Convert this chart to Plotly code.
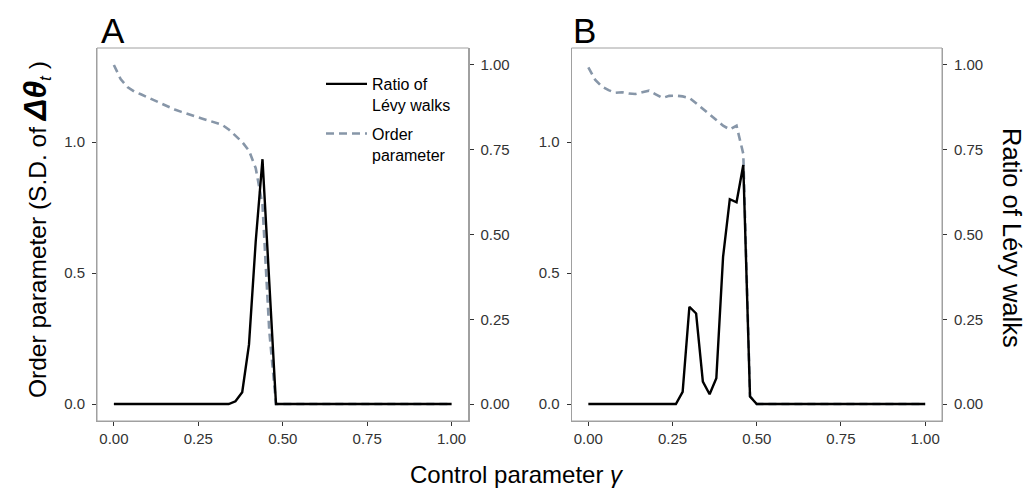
import plotly.graph_objects as go

# ---------------- data ----------------
gamma = [0.00, 0.02, 0.04, 0.06, 0.08, 0.10, 0.12, 0.14, 0.16, 0.18,
         0.20, 0.22, 0.24, 0.26, 0.28, 0.30, 0.32, 0.34, 0.36, 0.38,
         0.40, 0.42, 0.44, 0.46, 0.48, 0.50, 0.52, 0.54, 0.56, 0.58,
         0.60, 0.62, 0.64, 0.66, 0.68, 0.70, 0.72, 0.74, 0.76, 0.78,
         0.80, 0.82, 0.84, 0.86, 0.88, 0.90, 0.92, 0.94, 0.96, 0.98, 1.00]

# Panel A
order_A = [1.294, 1.240, 1.210, 1.193, 1.182, 1.170, 1.157, 1.145, 1.135, 1.124,
           1.115, 1.105, 1.098, 1.090, 1.083, 1.075, 1.066, 1.048, 1.025, 1.000,
           0.967, 0.900, 0.760, 0.280, 0.000, 0.000, 0.000, 0.000, 0.000, 0.000,
           0, 0, 0, 0, 0, 0, 0, 0, 0, 0,
           0, 0, 0, 0, 0, 0, 0, 0, 0, 0, 0]
levy_A = [0, 0, 0, 0, 0, 0, 0, 0, 0, 0,
          0, 0, 0, 0, 0, 0, 0, 0.000, 0.008, 0.035,
          0.175, 0.480, 0.722, 0.360, 0.000, 0, 0, 0, 0, 0,
          0, 0, 0, 0, 0, 0, 0, 0, 0, 0,
          0, 0, 0, 0, 0, 0, 0, 0, 0, 0, 0]

# Panel B
order_B = [1.285, 1.238, 1.212, 1.198, 1.188, 1.190, 1.185, 1.183, 1.190, 1.196,
           1.182, 1.168, 1.176, 1.177, 1.174, 1.168, 1.148, 1.128, 1.105, 1.084,
           1.062, 1.048, 1.062, 0.955, 0.030, 0.000, 0, 0, 0, 0,
           0, 0, 0, 0, 0, 0, 0, 0, 0, 0,
           0, 0, 0, 0, 0, 0, 0, 0, 0, 0, 0]
levy_B = [0, 0, 0, 0, 0, 0, 0, 0, 0, 0,
          0, 0, 0, 0.000, 0.036, 0.287, 0.267, 0.066, 0.029, 0.076,
          0.434, 0.604, 0.595, 0.705, 0.022, 0.000, 0, 0, 0, 0,
          0, 0, 0, 0, 0, 0, 0, 0, 0, 0,
          0, 0, 0, 0, 0, 0, 0, 0, 0, 0, 0]

x_ticks = [0, 0.25, 0.5, 0.75, 1.0]
x_ticktext = ["0.00", "0.25", "0.50", "0.75", "1.00"]
left_ticks = [0.0, 0.5, 1.0]
left_ticktext = ["0.0", "0.5", "1.0"]
right_ticks = [0, 0.25, 0.5, 0.75, 1.0]
right_ticktext = ["0.00", "0.25", "0.50", "0.75", "1.00"]

SCALE = 1.294  # secondary-axis factor: right 1.00 == left 1.294

# ---------------- styling ----------------
FONT = "Liberation Sans, Arial, Helvetica, sans-serif"
BLACK = "#000000"
GREY = "#8796a8"
BOX = "#a0a0a0"
TICK = "#333333"

fig = go.Figure()

# panel A
fig.add_trace(go.Scatter(x=gamma, y=levy_A, mode="lines", name="Ratio of<br>Lévy walks",
                         line=dict(color=BLACK, width=2.4), xaxis="x", yaxis="y2",
                         legendgroup="levy", showlegend=True))
fig.add_trace(go.Scatter(x=gamma, y=order_A, mode="lines", name="Order<br>parameter",
                         line=dict(color=GREY, width=2.6, dash="8px,5px"), xaxis="x", yaxis="y",
                         legendgroup="order", showlegend=True))
# panel B
fig.add_trace(go.Scatter(x=gamma, y=levy_B, mode="lines", name="Ratio of Lévy walks",
                         line=dict(color=BLACK, width=2.4), xaxis="x2", yaxis="y4",
                         legendgroup="levy", showlegend=False))
fig.add_trace(go.Scatter(x=gamma, y=order_B, mode="lines", name="Order parameter",
                         line=dict(color=GREY, width=2.6, dash="8px,5px"), xaxis="x2", yaxis="y3",
                         legendgroup="order", showlegend=False))

W, H = 1031, 494
yl = [-0.05 * SCALE, 1.05 * SCALE]
yr = [-0.05, 1.05]
ydom = [1 - 421 / H, 1 - 48 / H]

common_x = dict(range=[-0.05, 1.05], tickvals=x_ticks, ticktext=x_ticktext,
                showline=True, linecolor=BOX, linewidth=1,
                ticks="outside", ticklen=4, tickcolor=TICK, tickwidth=1,
                showgrid=False, zeroline=False,
                tickfont=dict(family=FONT, size=15, color=TICK))
common_yl = dict(range=yl, tickvals=left_ticks, ticktext=left_ticktext, domain=ydom,
                 showline=True, linecolor=BOX, linewidth=1,
                 ticks="outside", ticklen=4, tickcolor=TICK, tickwidth=1,
                 ticklabelstandoff=4,
                 showgrid=False, zeroline=False,
                 tickfont=dict(family=FONT, size=15, color=TICK))
common_yr = dict(range=yr, tickvals=right_ticks, ticktext=right_ticktext,
                 side="right", showline=True, linecolor=BOX, linewidth=1,
                 ticks="outside", ticklen=4, tickcolor=TICK, tickwidth=1,
                 ticklabelstandoff=4,
                 showgrid=False, zeroline=False,
                 tickfont=dict(family=FONT, size=15, color=TICK))


def ann(text, x, y, size, angle=0):
    return dict(text=text, x=x / W, y=1 - y / H, xref="paper", yref="paper",
                xanchor="center", yanchor="middle", textangle=angle,
                showarrow=False, font=dict(family=FONT, size=size, color="black"))


fig.update_layout(
    width=W, height=H,
    margin=dict(l=0, r=0, t=0, b=0),
    paper_bgcolor="white", plot_bgcolor="white",
    font=dict(family=FONT, color="black"),
    xaxis=dict(domain=[97 / W, 468.5 / W], anchor="y", **common_x),
    xaxis2=dict(domain=[571.5 / W, 942 / W], anchor="y3", **common_x),
    yaxis=dict(anchor="x", **common_yl),
    yaxis2=dict(anchor="x", overlaying="y", **common_yr),
    yaxis3=dict(anchor="x2", **common_yl),
    yaxis4=dict(anchor="x2", overlaying="y3", **common_yr),
    legend=dict(x=321 / W, y=1 - 67 / H, xanchor="left", yanchor="top",
                bgcolor="rgba(0,0,0,0)", font=dict(family=FONT, size=16, color="black"),
                valign="top", itemwidth=41, tracegroupgap=5),
    shapes=[
        dict(type="rect", xref="x domain", yref="y domain", x0=0, x1=1, y0=0, y1=1,
             line=dict(color=BOX, width=1), fillcolor="rgba(0,0,0,0)", layer="above"),
        dict(type="rect", xref="x2 domain", yref="y3 domain", x0=0, x1=1, y0=0, y1=1,
             line=dict(color=BOX, width=1), fillcolor="rgba(0,0,0,0)", layer="above"),
    ],
    annotations=[
        ann("A", 113, 30, 35),
        ann("B", 584.5, 30, 35),
        ann("Order parameter (S.D. of <b><i><span style='font-size:32px'>Δθ</span></i></b><sub><i>t</i></sub> )",
            36, 230, 24.5, -90),
        ann("Ratio of Lévy walks", 1012, 238, 25.5, 90),
        ann("Control parameter <i>γ</i>", 517, 474, 24),
    ],
)

fig.write_html("out.html")
